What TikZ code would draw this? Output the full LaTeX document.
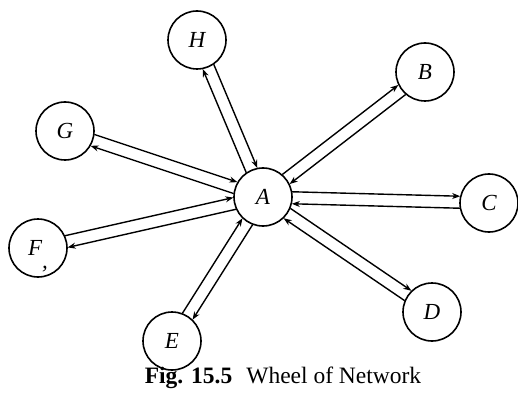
\documentclass[tikz,border=0pt]{standalone}
\usepackage{fontspec}
\setmainfont{Liberation Serif}
\usetikzlibrary{calc,arrows.meta}
\begin{document}
\begin{tikzpicture}[x=1pt,y=-1pt,
  station/.style={circle,draw,line width=1.6pt,minimum size=58pt,inner sep=0pt,font=\fontsize{23}{23}\selectfont\itshape},
  link/.style={line width=1.4pt,-{Stealth[length=8pt,width=6pt]}},
  caption/.style={font=\fontsize{23.5}{23.5}\selectfont}]
\useasboundingbox (0,0) rectangle (518,403);
\node[station] (A) at (263,197) {A};
\node[station] (B) at (425,72) {B};
\node[station] (C) at (489,203) {C};
\node[station] (D) at (432,312) {D};
\node[station] (E) at (172,341) {E};
\node[station] (F) at (38,248) {F\smash{\raisebox{-13pt}{,}}};
\node[station] (G) at (65,131) {G};
\node[station] (H) at (197,40) {H};
\foreach \X in {B,C,D,E,F,G,H} {
  \coordinate (p) at ($(A)!29pt!(\X)$);
  \coordinate (q) at ($(\X)!29pt!(A)$);
  \draw[link] ($(p)!6pt!90:(q)$) -- ($(q)!6pt!-90:(p)$);
  \draw[link] ($(q)!6pt!90:(p)$) -- ($(p)!6pt!-90:(q)$);
}
\node[caption] (cap) at (283,378) {\textbf{Fig. 15.5}\hspace{0.6em}Wheel of Network};
\end{tikzpicture}
\end{document}
